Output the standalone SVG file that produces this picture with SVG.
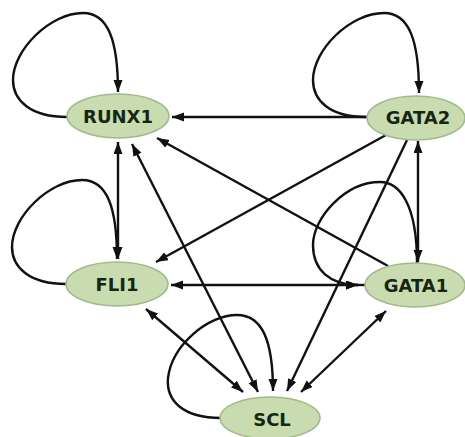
<svg xmlns="http://www.w3.org/2000/svg" width="465" height="437" viewBox="0 0 465 437">
<style>
.e{fill:none;stroke:#111;stroke-width:2.4}
.a{marker-end:url(#ah)}
.b{marker-start:url(#ah);marker-end:url(#ah)}
.n ellipse{fill:#c9dcb0;stroke:#a2b88d;stroke-width:1.5}
.n text{font-family:"DejaVu Sans",sans-serif;font-weight:bold;font-size:18px;fill:#17260f;text-anchor:middle}
</style>
<defs>
<marker id="ah" markerUnits="userSpaceOnUse" markerWidth="13" markerHeight="10" refX="12" refY="4.5" orient="auto-start-reverse">
<path d="M0,0 L12,4.5 L0,9 z" fill="#111"/>
</marker>
</defs>
<rect width="465" height="437" fill="#fff"/>
<g id="connectors">
<path class="e a" d="M67 117 C30 117 13 100 13 80 C13 50 50 13 83 13 C108 13 118 40 118 92"/>
<path class="e a" d="M366 117 C329 117 313 100 313 80 C313 50 350 13 384 13 C409 13 419 40 419 93"/>
<path class="e a" d="M66 284 C29 284 12 267 12 247 C12 217 49 180 82 180 C107 180 117 207 117 259"/>
<path class="e a" d="M417 263 C417 205 400 182 380 182 C345 182 313 218 313 245 C313 270 330 285 358 285"/>
<path class="e a" d="M221 418 C182 418 166 400 168 378 C172 345 208 315 237 315 C262 315 273 340 273 391"/>
<path class="e a" d="M367 117 L172 117"/>
<path class="e b" d="M118 142 L118 259"/>
<path class="e b" d="M132 144 L258 392"/>
<path class="e a" d="M388 266 L157 138"/>
<path class="e a" d="M386 135 L156 262"/>
<path class="e b" d="M171 285 L358 285"/>
<path class="e" d="M356 285 L366 285"/>
<path class="e b" d="M418 141 L418 262"/>
<path class="e a" d="M407 140 L287 391"/>
<path class="e b" d="M386 311 L301 392"/>
<path class="e b" d="M146 309 L243 392"/>
</g>
<g id="RUNX1" class="n"><ellipse cx="118" cy="116" rx="51" ry="22"/><text x="118" y="123">RUNX1</text></g>
<g id="GATA2" class="n"><ellipse cx="416" cy="118" rx="49" ry="22"/><text x="418" y="124">GATA2</text></g>
<g id="FLI1" class="n"><ellipse cx="117" cy="284" rx="51" ry="22"/><text x="117" y="291">FLI1</text></g>
<g id="GATA1" class="n"><ellipse cx="415" cy="285" rx="50" ry="22"/><text x="416" y="292">GATA1</text></g>
<g id="SCL" class="n"><ellipse cx="270" cy="418" rx="50" ry="21"/><text x="272" y="426">SCL</text></g>
</svg>
